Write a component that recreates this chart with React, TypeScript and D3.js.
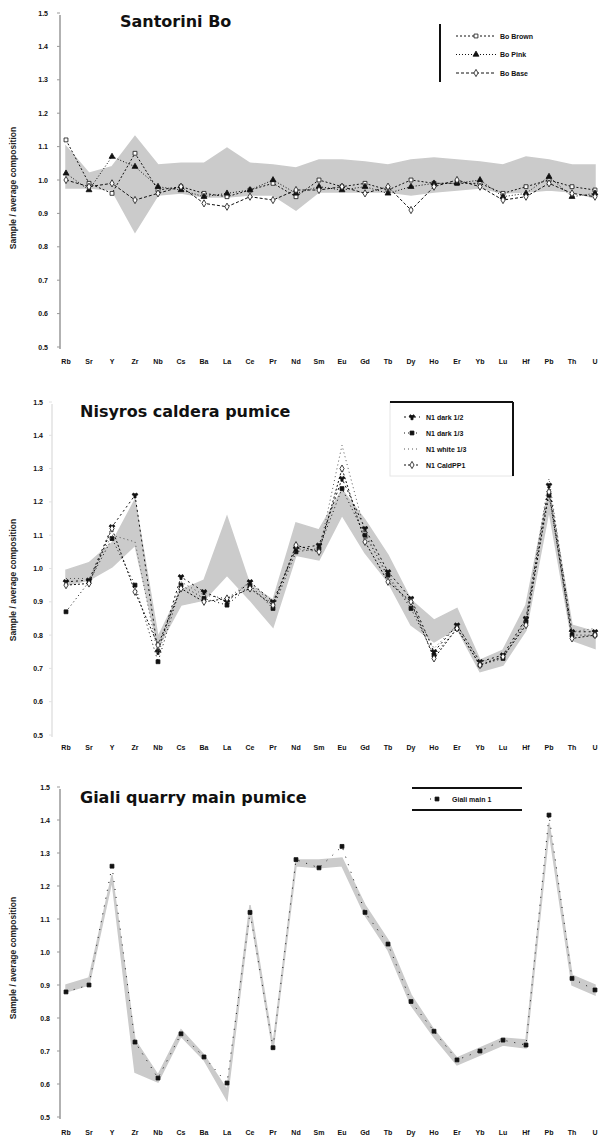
import React from 'react';
import * as d3 from 'd3';

// element order along the x axis
const elements = ['Rb', 'Sr', 'Y', 'Zr', 'Nb', 'Cs', 'Ba', 'La', 'Ce', 'Pr', 'Nd', 'Sm', 'Eu', 'Gd', 'Tb', 'Dy', 'Ho', 'Er', 'Yb', 'Lu', 'Hf', 'Pb', 'Th', 'U'];
const yTicks = [0.5, 0.6, 0.7, 0.8, 0.9, 1.0, 1.1, 1.2, 1.3, 1.4, 1.5];

// Santorini Bo
const santoriniBandHigh = [1.10, 1.02, 1.04, 1.13, 1.045, 1.05, 1.05, 1.095, 1.05, 1.045, 1.036, 1.06, 1.06, 1.054, 1.045, 1.06, 1.066, 1.06, 1.054, 1.045, 1.069, 1.06, 1.045, 1.045];
const santoriniBandLow = [0.976, 0.976, 0.97, 0.844, 0.955, 0.961, 0.949, 0.949, 0.955, 0.955, 0.91, 0.964, 0.964, 0.964, 0.964, 0.955, 0.964, 0.97, 0.976, 0.961, 0.964, 0.97, 0.964, 0.946];
const santoriniBrown = [1.12, 0.99, 0.96, 1.08, 0.97, 0.98, 0.96, 0.95, 0.97, 0.99, 0.95, 1.00, 0.98, 0.99, 0.97, 1.00, 0.99, 0.99, 0.99, 0.96, 0.98, 1.00, 0.98, 0.97];
const santoriniPink = [1.02, 0.97, 1.07, 1.04, 0.98, 0.97, 0.95, 0.96, 0.97, 1.00, 0.96, 0.98, 0.97, 0.98, 0.96, 0.98, 0.99, 0.99, 1.00, 0.95, 0.96, 1.01, 0.95, 0.96];
const santoriniBase = [1.00, 0.98, 0.99, 0.94, 0.96, 0.98, 0.93, 0.92, 0.95, 0.94, 0.97, 0.97, 0.98, 0.96, 0.98, 0.91, 0.98, 1.00, 0.98, 0.94, 0.95, 0.99, 0.96, 0.95];

// Nisyros caldera pumice
const nisyrosBandHigh = [0.995, 1.017, 1.077, 1.206, 0.794, 0.935, 0.965, 1.155, 0.95, 0.905, 1.137, 1.116, 1.236, 1.146, 1.04, 0.905, 0.845, 0.88, 0.725, 0.755, 0.89, 1.24, 0.83, 0.81];
const nisyrosBandLow = [0.95, 0.965, 1.005, 1.07, 0.764, 0.89, 0.905, 0.98, 0.905, 0.824, 1.04, 1.026, 1.16, 1.047, 0.96, 0.83, 0.78, 0.82, 0.69, 0.71, 0.815, 1.175, 0.785, 0.76];
const nisyrosDark2 = [0.96, 0.965, 1.125, 1.22, 0.75, 0.975, 0.93, 0.90, 0.96, 0.90, 1.06, 1.07, 1.27, 1.12, 0.99, 0.91, 0.75, 0.83, 0.72, 0.74, 0.85, 1.25, 0.81, 0.81];
const nisyrosDark3 = [0.87, 0.96, 1.09, 0.95, 0.72, 0.95, 0.91, 0.89, 0.95, 0.88, 1.05, 1.06, 1.24, 1.10, 0.98, 0.88, 0.74, 0.82, 0.71, 0.73, 0.84, 1.22, 0.80, 0.80];
const nisyrosWhite3 = [0.97, 0.97, 1.10, 1.08, 0.74, 0.96, 0.92, 0.91, 0.96, 0.89, 1.06, 1.05, 1.37, 1.11, 0.97, 0.89, 0.76, 0.83, 0.72, 0.73, 0.85, 1.27, 0.81, 0.82];
const nisyrosCald = [0.95, 0.955, 1.12, 0.93, 0.77, 0.94, 0.90, 0.91, 0.94, 0.89, 1.07, 1.05, 1.30, 1.08, 0.96, 0.90, 0.73, 0.82, 0.71, 0.735, 0.83, 1.23, 0.79, 0.80];

// Giali quarry main pumice
const gialiBandHigh = [0.90, 0.921, 1.233, 0.733, 0.627, 0.764, 0.688, 0.582, 1.142, 0.718, 1.279, 1.279, 1.285, 1.142, 1.036, 0.87, 0.764, 0.679, 0.709, 0.739, 0.733, 1.391, 0.93, 0.90];
const gialiBandLow = [0.879, 0.90, 1.218, 0.636, 0.606, 0.745, 0.673, 0.552, 1.121, 0.703, 1.261, 1.255, 1.261, 1.112, 1.006, 0.839, 0.742, 0.658, 0.688, 0.718, 0.709, 1.37, 0.90, 0.87];
const gialiMain = [0.879, 0.90, 1.26, 0.727, 0.618, 0.752, 0.682, 0.603, 1.12, 0.71, 1.28, 1.255, 1.32, 1.12, 1.024, 0.85, 0.76, 0.673, 0.70, 0.733, 0.718, 1.415, 0.92, 0.885];

type Series = { name: string; values: number[]; symbol: d3.SymbolType | null; fill: string; dash: string; color: string };

interface PanelProps {
  title: string;
  titleX: number;
  titleY: number;
  top: number;
  bottom: number;
  axisX: number;
  labelEnd: number;
  xLabelY: number;
  yTitleY: number;
  axisColor: string;
  bandHigh: number[];
  bandLow: number[];
  series: Series[];
}

const x = d3.scalePoint<string>().domain(elements).range([66, 595]);

const Panel: React.FC<PanelProps> = (p) => {
  const y = d3.scaleLinear().domain([0.5, 1.5]).range([p.bottom, p.top]);
  const area = d3.area<number>()
    .x((_, i) => x(elements[i]) ?? 0)
    .y0((_, i) => y(p.bandLow[i]))
    .y1((_, i) => y(p.bandHigh[i]));
  const line = d3.line<number>()
    .x((_, i) => x(elements[i]) ?? 0)
    .y(d => y(d));

  return (
    <g>
      <path d={area(p.bandHigh) ?? ''} fill="#cbcbcb" stroke="#cbcbcb" strokeWidth={1.5} />
      <line x1={p.axisX} x2={p.axisX} y1={p.top + 2} y2={p.bottom + 2} stroke={p.axisColor} strokeWidth={1.5} />
      {yTicks.map(t => (
        <g key={t}>
          <line x1={p.axisX - 3} x2={p.axisX} y1={y(t)} y2={y(t)} stroke={p.axisColor} />
          <text x={p.labelEnd} y={y(t) + 2.5} textAnchor="end" fontSize={7} fontWeight="bold"
            fontFamily="Liberation Sans, Arial, sans-serif" fill="#111">{t.toFixed(1)}</text>
        </g>
      ))}
      {elements.map(e => (
        <text key={e} x={x(e)} y={p.xLabelY} textAnchor="middle" fontSize={7} fontWeight="bold"
          fontFamily="Liberation Sans, Arial, sans-serif" fill="#111">{e}</text>
      ))}
      <text transform={`translate(16,${p.yTitleY}) rotate(-90)`} textAnchor="middle" fontSize={8.5} fontWeight="bold"
        fontFamily="Liberation Sans, Arial, sans-serif" fill="#222">Sample / average composition</text>
      <text x={p.titleX} y={p.titleY} fontSize={16} fontWeight="bold" fontFamily="DejaVu Sans, sans-serif" fill="#111">{p.title}</text>
      {p.series.map(s => (
        <g key={s.name}>
          <path d={line(s.values) ?? ''} fill="none" stroke={s.color} strokeWidth={1} strokeDasharray={s.dash} />
          {s.symbol && s.values.map((v, i) => (
            <path key={i} d={d3.symbol(s.symbol as d3.SymbolType, 15)() ?? ''}
              transform={`translate(${x(elements[i])},${y(v)})`} fill={s.fill} stroke="#111" strokeWidth={0.8} />
          ))}
        </g>
      ))}
    </g>
  );
};

const LegendRow: React.FC<{ s: Series; x0: number; x1: number; tx: number; y: number }> = ({ s, x0, x1, tx, y }) => (
  <g>
    <line x1={x0} x2={x1} y1={y} y2={y} stroke={s.color} strokeDasharray={s.dash} />
    {s.symbol && (
      <path d={d3.symbol(s.symbol, 15)() ?? ''} transform={`translate(${(x0 + x1) / 2},${y})`} fill={s.fill} stroke="#111" strokeWidth={0.8} />
    )}
    <text x={tx} y={y + 2.5} fontSize={7} fontWeight="bold" fontFamily="Liberation Sans, Arial, sans-serif" fill="#111">{s.name}</text>
  </g>
);

export default function App() {
  const santoriniSeries: Series[] = [
    { name: 'Bo Brown', values: santoriniBrown, symbol: d3.symbolSquare, fill: '#fff', dash: '2,2', color: '#111' },
    { name: 'Bo Pink', values: santoriniPink, symbol: d3.symbolTriangle, fill: '#111', dash: '1,2', color: '#111' },
    { name: 'Bo Base', values: santoriniBase, symbol: d3.symbolDiamond, fill: '#fff', dash: '3,2', color: '#111' },
  ];
  const nisyrosSeries: Series[] = [
    { name: 'N1 dark 1/2', values: nisyrosDark2, symbol: d3.symbolWye, fill: '#111', dash: '2,3', color: '#111' },
    { name: 'N1 dark 1/3', values: nisyrosDark3, symbol: d3.symbolSquare, fill: '#111', dash: '1,3', color: '#111' },
    { name: 'N1 white 1/3', values: nisyrosWhite3, symbol: null, fill: 'none', dash: '1,3', color: '#555' },
    { name: 'N1 CaldPP1', values: nisyrosCald, symbol: d3.symbolDiamond, fill: '#fff', dash: '2,2', color: '#111' },
  ];
  const gialiSeries: Series[] = [
    { name: 'Giali main 1', values: gialiMain, symbol: d3.symbolSquare, fill: '#111', dash: '1,7', color: '#111' },
  ];

  return (
    <svg width={602} height={1138} style={{ position: 'absolute', left: 0, top: 0, background: '#fff' }}>
      <Panel title="Santorini Bo" titleX={120} titleY={27} top={13} bottom={347} axisX={60} labelEnd={48}
        xLabelY={364} yTitleY={188} axisColor="#999" bandHigh={santoriniBandHigh} bandLow={santoriniBandLow} series={santoriniSeries} />
      <line x1={440} x2={440} y1={24} y2={82} stroke="#111" strokeWidth={2} />
      {santoriniSeries.map((s, i) => (
        <LegendRow key={s.name} s={s} x0={456} x1={496} tx={500} y={36 + i * 18.5} />
      ))}

      <Panel title="Nisyros caldera pumice" titleX={80} titleY={417} top={402} bottom={735} axisX={52} labelEnd={43}
        xLabelY={750} yTitleY={580} axisColor="#e2e2e2" bandHigh={nisyrosBandHigh} bandLow={nisyrosBandLow} series={nisyrosSeries} />
      <rect x={390} y={402} width={123} height={74} fill="#fff" stroke="#e6e6e6" />
      <line x1={390} x2={513} y1={402} y2={402} stroke="#111" strokeWidth={2} />
      <line x1={513} x2={513} y1={402} y2={476} stroke="#111" strokeWidth={2} />
      {nisyrosSeries.map((s, i) => (
        <LegendRow key={s.name} s={s} x0={404} x1={420} tx={426} y={417 + i * 16} />
      ))}

      <Panel title="Giali quarry main pumice" titleX={80} titleY={803} top={787} bottom={1117} axisX={60} labelEnd={50}
        xLabelY={1135} yTitleY={958} axisColor="#999" bandHigh={gialiBandHigh} bandLow={gialiBandLow} series={gialiSeries} />
      <line x1={412} x2={522} y1={788} y2={788} stroke="#111" strokeWidth={2} />
      <line x1={412} x2={522} y1={810} y2={810} stroke="#111" strokeWidth={2} />
      {gialiSeries.map(s => (
        <LegendRow key={s.name} s={s} x0={430} x1={444} tx={452} y={799} />
      ))}
    </svg>
  );
}
